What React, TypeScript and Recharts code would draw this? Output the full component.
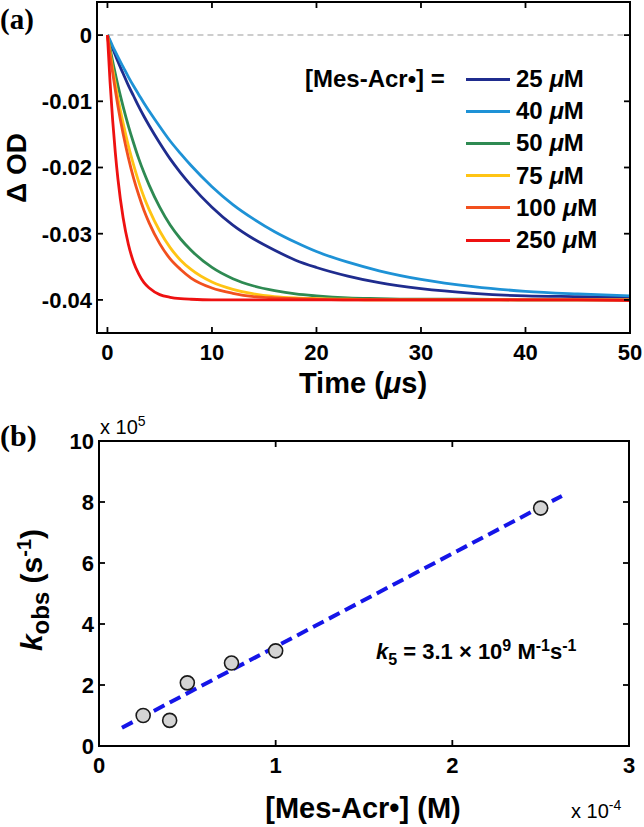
import React from 'react';
import {
  LineChart, Line, XAxis, YAxis, ReferenceLine, Legend,
  ComposedChart, Scatter,
} from 'recharts';

const FONT = '"Liberation Sans", Arial, sans-serif';
const SERIF = '"Liberation Serif", "Times New Roman", serif';

// (a) transient absorption traces, time in µs
const times = [0, 0.25, 0.5, 0.75, 1, 1.5, 2, 2.5, 3, 3.5, 4, 5, 6, 7, 8, 10, 12, 14, 16, 18, 20, 23, 26, 30, 35, 40, 45, 50];
const od25 = [0, -0.0010, -0.0020, -0.0030, -0.0040, -0.0058, -0.0076, -0.0092, -0.0108, -0.0123, -0.0137, -0.0163, -0.0187, -0.0208, -0.0227, -0.0260, -0.0287, -0.0308, -0.0325, -0.0340, -0.0351, -0.0364, -0.0374, -0.0383, -0.0390, -0.0394, -0.0395, -0.0396];
const od40 = [0, -0.0008, -0.0017, -0.0025, -0.0033, -0.0048, -0.0063, -0.0077, -0.0090, -0.0103, -0.0115, -0.0138, -0.0160, -0.0179, -0.0197, -0.0229, -0.0256, -0.0278, -0.0297, -0.0313, -0.0327, -0.0343, -0.0356, -0.0369, -0.0380, -0.0387, -0.0391, -0.0394];
const od50 = [0, -0.0020, -0.0040, -0.0058, -0.0076, -0.0108, -0.0137, -0.0163, -0.0187, -0.0208, -0.0227, -0.0260, -0.0287, -0.0308, -0.0325, -0.0351, -0.0368, -0.0379, -0.0386, -0.0391, -0.0394, -0.0397, -0.0398, -0.0399, -0.0399, -0.0400, -0.0400, -0.0400];
const od75 = [0, -0.0026, -0.0051, -0.0073, -0.0095, -0.0133, -0.0167, -0.0196, -0.0222, -0.0245, -0.0264, -0.0296, -0.0321, -0.0340, -0.0354, -0.0373, -0.0384, -0.0391, -0.0395, -0.0397, -0.0398, -0.0399, -0.0400, -0.0400, -0.0400, -0.0400, -0.0400, -0.0400];
const od100 = [0, -0.0030, -0.0057, -0.0083, -0.0107, -0.0149, -0.0185, -0.0216, -0.0242, -0.0265, -0.0284, -0.0315, -0.0338, -0.0354, -0.0367, -0.0382, -0.0390, -0.0395, -0.0397, -0.0398, -0.0399, -0.0400, -0.0400, -0.0400, -0.0400, -0.0400, -0.0400, -0.0400];
const od250 = [0, -0.0071, -0.0129, -0.0177, -0.0217, -0.0276, -0.0316, -0.0343, -0.0361, -0.0374, -0.0382, -0.0392, -0.0396, -0.0398, -0.0399, -0.0400, -0.0400, -0.0400, -0.0400, -0.0400, -0.0400, -0.0400, -0.0400, -0.0400, -0.0400, -0.0400, -0.0400, -0.0401];

const concs = ['25', '40', '50', '75', '100', '250'];
const traces = [od25, od40, od50, od75, od100, od250];
const colors = ['#1F2C8E', '#1E92D6', '#2E8A52', '#FFC414', '#F2501E', '#EE1111'];

const timeDomain: [number, number] = [-1, 50];
const odDomain: [number, number] = [-0.045, 0.005];
const timeTicks = [0, 10, 20, 30, 40, 50];
const odTicks = [-0.04, -0.03, -0.02, -0.01, 0];

// (b) k_obs vs [Mes-Acr•]; x in 1e-4 M, y in 1e5 s^-1
const concX = [0.25, 0.4, 0.5, 0.75, 1.0, 2.5];
const kObs = [1.0, 0.84, 2.07, 2.72, 3.12, 7.8];
const fitX = [0.13, 2.62];
const fitY = [0.6, 8.2];
const concDomain: [number, number] = [0, 3];
const kDomain: [number, number] = [0, 10];
const concTicks = [0, 1, 2, 3];
const kTicks = [0, 2, 4, 6, 8, 10];

const rowsA = times.map((t, i) => {
  const row: Record<string, number> = { t };
  concs.forEach((c, j) => { row['c' + c] = traces[j][i]; });
  return row;
});
const points = concX.map((x, i) => ({ x, y: kObs[i] }));
const fitLine = fitX.map((x, i) => ({ x, y: fitY[i] }));

const W = 644;
// plot boxes: margins around each panel's axes area
const boxA = { top: 2, left: 97, right: 14, bottom: 77, height: 410 };
const boxB = { top: 31, left: 99, right: 15, bottom: 81, height: 417, pageTop: 410 };

const AX = '#000';
const TL = 6; // inward tick length
const txt = { fontSize: 22, fontWeight: 'bold' as const, fill: '#000', fontFamily: FONT };

// x tick: label below plus the mirrored tick on the top edge
const xTick = (plotTop: number) => (p: any) => (
  <g>
    <line x1={p.x} x2={p.x} y1={plotTop} y2={plotTop + TL} stroke={AX} strokeWidth={1.8} />
    <text x={p.x} y={p.y} dy="0.71em" textAnchor="middle" {...txt}>{p.payload.value}</text>
  </g>
);
// y tick: label on the left plus the mirrored tick on the right edge
const yTick = (plotRight: number, fmt: (v: number) => string) => (p: any) => (
  <g>
    <line x1={plotRight} x2={plotRight - TL} y1={p.y} y2={p.y} stroke={AX} strokeWidth={1.8} />
    <text x={p.x} y={p.y} dy="0.355em" textAnchor="end" {...txt}>{fmt(p.payload.value)}</text>
  </g>
);

const renderLegend = (props: any) => {
  // keep the plotting order, not the library's alphabetical sort
  const payload = (props.payload || [])
    .filter((p: any) => concs.includes(p.value))
    .sort((a: any, b: any) => concs.indexOf(a.value) - concs.indexOf(b.value));
  return (
    <div style={{ position: 'relative', fontFamily: FONT, fontWeight: 'bold', fontSize: 24, color: '#000' }}>
      <div style={{ position: 'absolute', left: 0, top: 0, height: 32, lineHeight: '32px', whiteSpace: 'nowrap' }}>
        [Mes-Acr•] =
      </div>
      {payload.map((p: any, i: number) => (
        <div key={i} style={{
          position: 'absolute', left: 161, top: i * 32.2, height: 32,
          display: 'flex', alignItems: 'center', whiteSpace: 'nowrap',
        }}>
          <span style={{ display: 'inline-block', width: 44, height: 3, background: p.color, marginRight: 6 }} />
          <span>{p.value} <i>μ</i>M</span>
        </div>
      ))}
    </div>
  );
};

const abs = (left: number, top: number, extra: React.CSSProperties = {}): React.CSSProperties => ({
  position: 'absolute', left, top, whiteSpace: 'nowrap', fontFamily: FONT,
  fontWeight: 'bold', color: '#000', lineHeight: 1, ...extra,
});

// box outline round a plot area (page coordinates)
const frame = (left: number, top: number, right: number, bottom: number): React.CSSProperties => ({
  position: 'absolute', left: left - 1, top: top - 1, width: right - left + 2, height: bottom - top + 2,
  border: '2px solid #000', boxSizing: 'border-box', pointerEvents: 'none',
});

export default function App() {
  const aRight = W - boxA.right;
  const bRight = W - boxB.right;
  return (
    <div style={{ position: 'absolute', left: 0, top: 0, width: 644, height: 827, background: '#fff', overflow: 'hidden' }}>
      <div style={{ position: 'absolute', left: 0, top: 0 }}>
        <LineChart width={W} height={boxA.height} data={rowsA}
          margin={{ top: boxA.top, right: boxA.right, bottom: 0, left: 0 }}>
          <XAxis
            dataKey="t" type="number" domain={timeDomain} ticks={timeTicks} interval={0}
            height={boxA.bottom} tick={xTick(boxA.top)} tickSize={-TL} tickMargin={17}
            stroke={AX} strokeWidth={1.8} allowDataOverflow
          />
          <YAxis
            type="number" domain={odDomain} ticks={odTicks} interval={0} width={boxA.left}
            tick={yTick(aRight, (v) => (v === 0 ? '0' : v.toFixed(2)))} tickSize={-TL} tickMargin={11}
            stroke={AX} strokeWidth={1.8} allowDataOverflow
          />
          <ReferenceLine
            segment={[{ x: 0, y: 0 }, { x: 50, y: 0 }]}
            stroke="#BDBDBD" strokeWidth={1.5} strokeDasharray="6 4"
          />
          {concs.map((c, j) => (
            <Line
              key={c} type="monotone" dataKey={'c' + c} name={c} stroke={colors[j]}
              strokeWidth={2.8} dot={false} legendType="line" isAnimationActive={false}
            />
          ))}
          <Legend
            layout="vertical" align="center" verticalAlign="middle" content={renderLegend}
            wrapperStyle={{ left: 305, top: 63, width: 320, height: 200 }}
          />
        </LineChart>
      </div>

      <div style={{ position: 'absolute', left: 0, top: boxB.pageTop }}>
        <ComposedChart width={W} height={boxB.height}
          margin={{ top: boxB.top, right: boxB.right, bottom: 0, left: 0 }}>
          <XAxis
            dataKey="x" type="number" domain={concDomain} ticks={concTicks} interval={0}
            height={boxB.bottom} tick={xTick(boxB.top)} tickSize={-TL} tickMargin={17}
            stroke={AX} strokeWidth={1.8}
          />
          <YAxis
            type="number" domain={kDomain} ticks={kTicks} interval={0} width={boxB.left}
            tick={yTick(bRight, (v) => String(v))} tickSize={-TL} tickMargin={11}
            stroke={AX} strokeWidth={1.8}
          />
          <Line
            data={fitLine} dataKey="y" type="linear" stroke="#1515E8" strokeWidth={4}
            strokeDasharray="12 6" dot={false} isAnimationActive={false}
          />
          <Scatter
            data={points} dataKey="y" isAnimationActive={false}
            shape={(p: any) => (
              <circle cx={p.cx} cy={p.cy} r={7} fill="#D4D4D4" stroke="#1a1a1a" strokeWidth={1.6} />
            )}
          />
        </ComposedChart>
      </div>

      <div style={frame(boxA.left, boxA.top, aRight, boxA.height - boxA.bottom)} />
      <div style={frame(boxB.left, boxB.pageTop + boxB.top, bRight, boxB.pageTop + boxB.height - boxB.bottom)} />

      {/* panel (a) text */}
      <div style={abs(0, 5, { fontFamily: SERIF, fontSize: 29 })}>(a)</div>
      <div style={abs(17, 168, { fontSize: 28, transform: 'translate(-50%, -50%) rotate(-90deg)' })}>Δ OD</div>
      <div style={abs(363, 383, { fontSize: 29, transform: 'translate(-50%, -50%)' })}>
        Time (<i>μ</i>s)
      </div>

      {/* panel (b) text */}
      <div style={abs(0, 421, { fontFamily: SERIF, fontSize: 30 })}>(b)</div>
      <div style={abs(100, 414, { fontSize: 20, fontWeight: 'normal' })}>
        x 10<sup style={{ fontSize: 14 }}>5</sup>
      </div>
      <div style={abs(33, 590, { fontSize: 30, transform: 'translate(-50%, -50%) rotate(-90deg)' })}>
        <i>k</i><sub style={{ fontSize: 24 }}>obs</sub> (s<sup style={{ fontSize: 20 }}>-1</sup>)
      </div>
      <div style={abs(376, 638, { fontSize: 22 })}>
        <i>k</i><sub style={{ fontSize: 16 }}>5</sub> = 3.1 × 10<sup style={{ fontSize: 16 }}>9</sup> M<sup style={{ fontSize: 16 }}>-1</sup>s<sup style={{ fontSize: 16 }}>-1</sup>
      </div>
      <div style={abs(363, 808, { fontSize: 29, transform: 'translate(-50%, -50%)' })}>
        [Mes-Acr•] (M)
      </div>
      <div style={abs(571, 798, { fontSize: 20, fontWeight: 'normal' })}>
        x 10<sup style={{ fontSize: 14 }}>-4</sup>
      </div>
    </div>
  );
}
